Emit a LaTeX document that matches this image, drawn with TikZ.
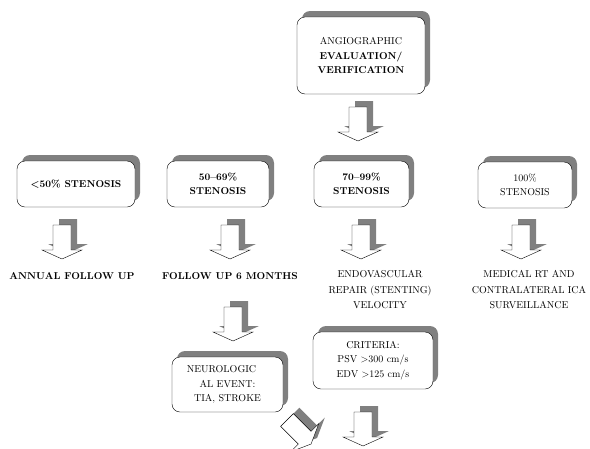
\documentclass[tikz,border=0pt]{standalone}
\usepackage{tikz}
\usetikzlibrary{shadows}
\usetikzlibrary{positioning}
\tikzset{
  MyBox/.style={
    rectangle, rounded corners=8pt,
    draw=black, thin, fill=white,
    align=center, inner sep=2pt,
    font=\fontsize{10}{14.5}\selectfont,
    drop shadow={shadow xshift=5pt, shadow yshift=6pt, fill=black!50, opacity=1},
  },
  MyBold/.style={font=\bfseries\fontsize{10}{14.5}\selectfont},
  MyText/.style={align=center, inner sep=0pt, font=\fontsize{10}{15.5}\selectfont},
  MyShade/.style={shift={(6,-6)}},
  BigArrow/.pic={
    \fill[black!50, MyShade] (-9,0) -- (9,0) -- (9,25) -- (20,25) -- (0,34) -- (-20,25) -- (-9,25) -- cycle;
    \draw[fill=white, thin] (-9,0) -- (9,0) -- (9,25) -- (20,25) -- (0,34) -- (-20,25) -- (-9,25) -- cycle;
  },
}
\begin{document}
\begin{tikzpicture}[x=1pt, y=-1pt]
\useasboundingbox (0,0) rectangle (590,448);
\node[MyBox, minimum width=128pt, minimum height=77pt] (ANGIO) at (361,55.5) {ANGIOGRAPHIC\\\textbf{EVALUATION/}\\\textbf{VERIFICATION}};
\node[MyBox, MyBold, minimum width=118pt, minimum height=46pt] (LOW) at (76,184) {<50\% STENOSIS};
\node[MyBox, MyBold, minimum width=102pt, minimum height=46pt] (MID) at (218,184) {50--69\%\\STENOSIS};
\node[MyBox, MyBold, minimum width=95pt, minimum height=46pt] (HIGH) at (361.5,184) {70--99\%\\STENOSIS};
\node[MyBox, minimum width=94pt, minimum height=46pt] (FULL) at (525,185) {100\%\\STENOSIS};
\node[MyText, MyBold] (ANNUAL) at (72,276) {ANNUAL FOLLOW UP};
\node[MyText, MyBold] (SIXM) at (230,276) {FOLLOW UP 6 MONTHS};
\node[MyText] (ENDO) at (380,290) {ENDOVASCULAR\\REPAIR (STENTING)\\VELOCITY};
\node[MyText] (MEDRT) at (529,290) {MEDICAL RT AND\\CONTRALATERAL ICA\\SURVEILLANCE};
\node[MyBox, minimum width=111pt, minimum height=55pt] (NEURO) at (227.5,384.5) {\hspace*{-12pt}NEUROLOGIC\\AL EVENT:\\TIA, STROKE};
\node[MyBox, minimum width=120pt, minimum height=57pt] (CRIT) at (373,360.5) {CRITERIA:\\PSV >300 cm/s\\EDV >125 cm/s};
\pic (A0) at (358,107) {BigArrow};
\pic (A1) at (62,225) {BigArrow};
\pic (A2) at (230,225) {BigArrow};
\pic (A3) at (361,225) {BigArrow};
\pic (A4) at (521,225) {BigArrow};
\pic (A5) at (233,307) {BigArrow};
\pic (A6) at (363,412) {BigArrow};
\pic[rotate=45, MyShade/.style={shift={(8.5,0)}}] (A7) at (287,420) {BigArrow};
\end{tikzpicture}
\end{document}
